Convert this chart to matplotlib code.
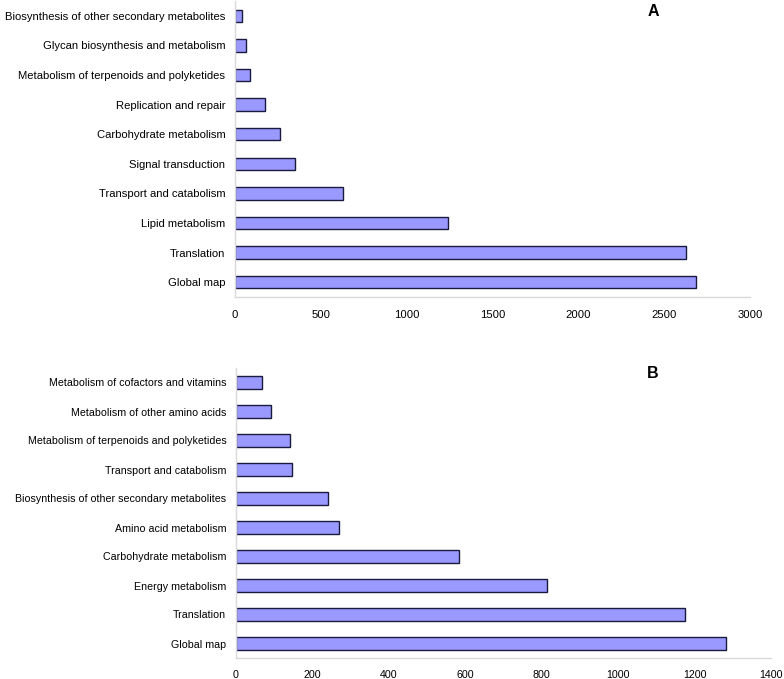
import matplotlib
matplotlib.use("Agg")
import matplotlib.pyplot as plt

plt.rcParams['font.family'] = ['Liberation Sans', 'DejaVu Sans']

# panel A
cats_a = ["Global map", "Translation", "Lipid metabolism", "Transport and catabolism",
          "Signal transduction", "Carbohydrate metabolism", "Replication and repair",
          "Metabolism of terpenoids and polyketides", "Glycan biosynthesis and metabolism",
          "Biosynthesis of other secondary metabolites"]
vals_a = [2683, 2625, 1239, 627, 349, 262, 175, 89, 62, 39]
ticks_a = [0, 500, 1000, 1500, 2000, 2500, 3000]

# panel B
cats_b = ["Global map", "Translation", "Energy metabolism", "Carbohydrate metabolism",
          "Amino acid metabolism", "Biosynthesis of other secondary metabolites",
          "Transport and catabolism", "Metabolism of terpenoids and polyketides",
          "Metabolism of other amino acids", "Metabolism of cofactors and vitamins"]
vals_b = [1281, 1175, 814, 583, 270, 242, 147, 140, 91, 67]
ticks_b = [0, 200, 400, 600, 800, 1000, 1200, 1400]

W, H = 784, 679
fig = plt.figure(figsize=(W / 100, H / 100), dpi=100)

def panel(rect, cats, vals, ticks, letter, letter_xy, fs):
    ax = fig.add_axes(rect)
    ax.barh(range(len(cats)), vals, height=0.42, color="#9999ff",
            edgecolor="#1a1a40", linewidth=1.0)
    ax.set_yticks(range(len(cats)))
    ax.set_yticklabels(cats, fontsize=fs)
    ax.set_xticks(ticks)
    ax.set_xticklabels([str(t) for t in ticks], fontsize=fs)
    ax.set_xlim(ticks[0], ticks[-1])
    ax.set_ylim(-0.5, len(cats) - 0.5)
    ax.tick_params(length=0)
    ax.tick_params(axis='x', pad=9)
    ax.tick_params(axis='y', pad=7)
    for s in ["top", "right"]:
        ax.spines[s].set_visible(False)
    for s in ["left", "bottom"]:
        ax.spines[s].set_color("#d9d9d9")
        ax.spines[s].set_linewidth(1.0)
    fig.text(letter_xy[0] / W, 1 - letter_xy[1] / H, letter, fontsize=11.5,
             fontweight="bold", ha="center", va="center")
    return ax

panel([235 / W, 1 - 297 / H, (750 - 235) / W, 296 / H], cats_a, vals_a, ticks_a, "A", (653, 12), 8.15)
panel([236 / W, 1 - 658 / H, (771 - 236) / W, 290 / H], cats_b, vals_b, ticks_b, "B", (653, 373), 7.7)

fig.savefig("out.png", dpi=100)
